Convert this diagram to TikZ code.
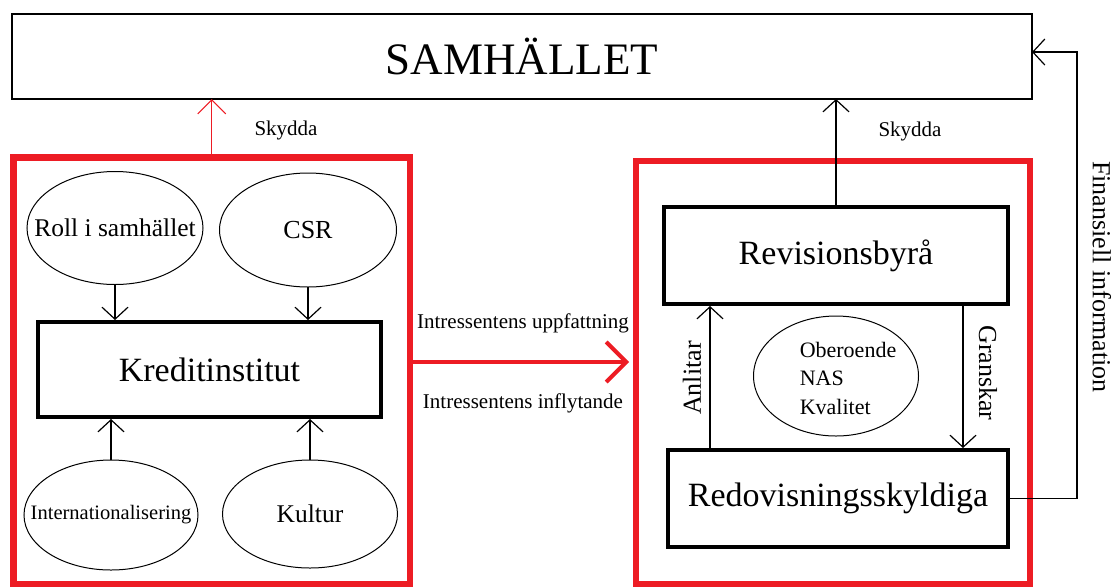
\documentclass[tikz,border=0pt]{standalone}
\usepackage{fontspec}
\setmainfont{Liberation Serif}
\usetikzlibrary{arrows.meta,shapes.geometric}
\definecolor{myred}{RGB}{237,28,36}
\newcommand{\fsz}[1]{\fontsize{#1}{#1}\selectfont}
\newcommand{\zb}[1]{\makebox[0pt]{#1}}
\begin{document}
\begin{tikzpicture}[x=1pt,y=-1pt,
  thinline/.style={line width=1.2pt},
  arr/.style={thinline,-{Straight Barb[length=12pt,width=26pt,line width=1.2pt]}},
  redarr/.style={myred,line width=1.2pt,-{Straight Barb[length=14pt,width=28pt,line width=1.2pt]}},
  bigred/.style={myred,line width=4pt,-{Straight Barb[length=20pt,width=40pt,line width=4pt]}},
  redbox/.style={draw=myred,line width=6.5pt,rectangle,inner sep=0pt,outer sep=0pt},
  thickbox/.style={draw,line width=4pt,rectangle,inner sep=0pt,outer sep=0pt,font=\fsz{34}},
  oval/.style={draw,ellipse,line width=1pt,inner sep=0pt,outer sep=0pt},
  lbl/.style={inner sep=0pt}]
\useasboundingbox (0,0) rectangle (1115,587);

\node[draw,line width=1.3pt,rectangle,minimum width=1020pt,minimum height=85pt,inner sep=0pt,outer sep=0pt,font=\fsz{45}] (samh) at (522,56.5) {SAMHÄLLET};

\node[redbox,minimum width=396.5pt,minimum height=426.5pt] (lbox) at (211.75,370.75) {};
\node[redbox,minimum width=394pt,minimum height=423pt] (rbox) at (833,372.5) {};

\node[thickbox,minimum width=343pt,minimum height=95pt] (kred) at (209.5,369.5) {Kreditinstitut};
\node[thickbox,minimum width=344pt,minimum height=97pt] (revi) at (836,255.5) {Revisionsbyrå};
\node[thickbox,minimum width=340pt,minimum height=97pt] (redo) at (838,498.5) {Redovisningsskyldiga};

\node[oval,minimum width=176pt,minimum height=113pt,font=\fsz{25.5}] (roll) at (115,228) {\zb{Roll i samhället}};
\node[oval,minimum width=177pt,minimum height=114pt,font=\fsz{26}] (csr) at (308,230) {\zb{CSR}};
\node[oval,minimum width=174pt,minimum height=110pt,font=\fsz{20.5}] (intl) at (111,515) {\zb{Internationalisering}};
\node[oval,minimum width=175pt,minimum height=108pt,font=\fsz{25.5}] (kult) at (310,514) {\zb{Kultur}};
\node[oval,minimum width=165pt,minimum height=120pt] (ober) at (836,376) {};
\node[lbl,align=left,font=\fontsize{22}{28.5}\selectfont] (obtext) at (848,378) {Oberoende\\NAS\\Kvalitet};

\draw[arr,shorten >=2pt] (roll.south) -- (roll.south |- kred.north);
\draw[arr,shorten >=2pt] (csr.south) -- (csr.south |- kred.north);
\draw[arr,shorten >=2pt] (intl.north) -- (intl.north |- kred.south);
\draw[arr,shorten >=2pt] (kult.north) -- (kult.north |- kred.south);

\coordinate (xa) at (710,0);
\coordinate (xg) at (963,0);
\draw[arr,shorten >=2pt,shorten <=2pt] (redo.north -| xa) -- (revi.south -| xa);
\draw[arr,shorten >=2pt,shorten <=2pt] (revi.south -| xg) -- (redo.north -| xg);
\node[lbl,rotate=90,font=\fsz{26}] (anl) at (692,378) {Anlitar};
\node[lbl,rotate=-90,font=\fsz{26}] (gra) at (988,373) {Granskar};

\draw[redarr,shorten <=3pt] (lbox.north) -- (lbox.north |- samh.south);
\draw[arr,shorten <=2pt] (revi.north) -- (revi.north |- samh.south);
\node[lbl,font=\fsz{21}] (sky1) at (286,130) {Skydda};
\node[lbl,font=\fsz{21}] (sky2) at (910,131) {Skydda};

\coordinate (ry) at (0,362);
\draw[bigred,shorten <=3pt,shorten >=7pt] (lbox.east |- ry) -- (rbox.west |- ry);
\node[lbl,font=\fsz{21}] (upp) at (523,323) {Intressentens uppfattning};
\node[lbl,font=\fsz{21}] (inf) at (523,403) {Intressentens inflytande};

\coordinate (fc) at (1077,52);
\draw[arr,shorten <=2pt] (redo.east) -| (fc) -- (fc -| samh.east);
\node[lbl,rotate=-90,font=\fsz{26}] (fin) at (1102,277) {Finansiell information};
\end{tikzpicture}
\end{document}
